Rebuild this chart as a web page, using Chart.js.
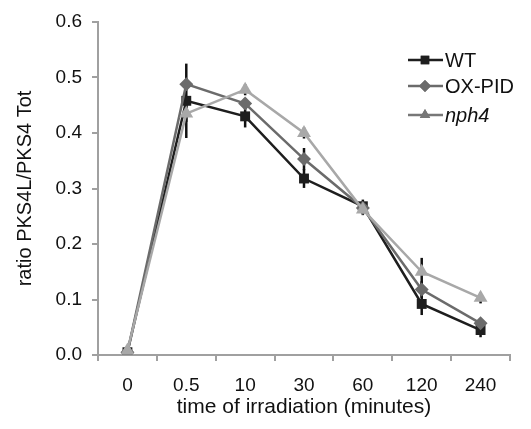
<!DOCTYPE html>
<html>
<head>
<meta charset="utf-8">
<script src="https://cdn.jsdelivr.net/npm/chart.js@4"></script>
<style>
  body { margin: 0; background: #fff; }
  #wrap { width: 531px; height: 429px; }
</style>
</head>
<body>
<div id="wrap"><canvas id="lineChart" width="531" height="429"></canvas></div>
<script>
// tiempos de irradiacion (minutos)
const tiempos = ["0", "0.5", "10", "30", "60", "120", "240"];

// ratio PKS4L / PKS4 Tot
const valoresWT    = [0.005, 0.458, 0.430, 0.318, 0.268, 0.092, 0.045];
const valoresOXPID = [0.005, 0.488, 0.453, 0.353, 0.265, 0.118, 0.057];
const valoresNph4  = [0.008, 0.435, 0.478, 0.400, 0.262, 0.150, 0.103];

// barras de error (+/-)
const errorWT    = [0.003, 0.067, 0.020, 0.017, 0.012, 0.020, 0.013];
const errorOXPID = [0.003, 0.010, 0.010, 0.020, 0.010, 0.015, 0.008];
const errorNph4  = [0.003, 0.015, 0.010, 0.010, 0.010, 0.025, 0.010];

const marcasY = [0, 0.1, 0.2, 0.3, 0.4, 0.5, 0.6];

const FUENTE = "'Liberation Sans', Arial, sans-serif";

// dibuja las barras de error en negro
const pluginErrores = {
  id: 'errores',
  beforeDatasetsDraw(chart) {
    const ctx = chart.ctx;
    const x = chart.scales.x, y = chart.scales.y;
    ctx.save();
    ctx.strokeStyle = '#111';
    ctx.lineWidth = 2.5;
    chart.data.datasets.forEach(ds => {
      ds.data.forEach((v, i) => {
        const px = x.getPixelForValue(i);
        ctx.beginPath();
        ctx.moveTo(px, y.getPixelForValue(v - ds.errores[i]));
        ctx.lineTo(px, y.getPixelForValue(v + ds.errores[i]));
        ctx.stroke();
      });
    });
    ctx.restore();
  }
};

// leyenda con linea + marcador, como en Excel
const pluginLeyenda = {
  id: 'leyenda',
  afterDraw(chart) {
    const ctx = chart.ctx;
    const filas = [
      { texto: 'WT', color: '#1e1e1e', estilo: 'rect', italica: false, y: 60 },
      { texto: 'OX-PID', color: '#6b6b6b', estilo: 'rectRot', italica: false, y: 86 },
      { texto: 'nph4', color: '#777777', estilo: 'triangle', italica: true, y: 115 }
    ];
    ctx.save();
    filas.forEach(f => {
      ctx.strokeStyle = f.color;
      ctx.lineWidth = 2.5;
      ctx.beginPath();
      ctx.moveTo(408, f.y);
      ctx.lineTo(443, f.y);
      ctx.stroke();
      ctx.fillStyle = f.color;
      Chart.helpers.drawPoint(ctx, { pointStyle: f.estilo, radius: 6, rotation: 0, borderWidth: 0 }, 425, f.y);
      ctx.fill();
      ctx.fillStyle = '#111';
      ctx.font = (f.italica ? 'italic ' : '') + '20px ' + FUENTE;
      ctx.textBaseline = 'middle';
      ctx.textAlign = 'left';
      ctx.fillText(f.texto, 445, f.y + 1);
    });
    ctx.restore();
  }
};

const ctxL = document.getElementById('lineChart').getContext('2d');
const myLineChart = new Chart(ctxL, {
  type: 'line',
  data: {
    labels: tiempos,
    datasets: [
      {
        label: 'WT',
        data: valoresWT,
        errores: errorWT,
        borderColor: '#1e1e1e',
        backgroundColor: '#1e1e1e',
        borderWidth: 2.5,
        pointStyle: 'rect',
        pointRadius: 7,
        pointBorderWidth: 0,
        order: 3
      },
      {
        label: 'OX-PID',
        data: valoresOXPID,
        errores: errorOXPID,
        borderColor: '#6b6b6b',
        backgroundColor: '#6b6b6b',
        borderWidth: 2.5,
        pointStyle: 'rectRot',
        pointRadius: 7,
        pointBorderWidth: 0,
        order: 2
      },
      {
        label: 'nph4',
        data: valoresNph4,
        errores: errorNph4,
        borderColor: '#a8a8a8',
        backgroundColor: '#a8a8a8',
        borderWidth: 2.5,
        pointStyle: 'triangle',
        pointRadius: 8,
        pointBorderWidth: 0,
        order: 1
      }
    ]
  },
  options: {
    responsive: false,
    animation: false,
    layout: { padding: { top: 22, right: 21, left: 0, bottom: 0 } },
    plugins: {
      legend: { display: false },
      tooltip: { enabled: false }
    },
    scales: {
      x: {
        offset: true,
        grid: { offset: true, drawOnChartArea: false, drawTicks: true, tickLength: 6, color: '#a0a0a0', lineWidth: 2 },
        border: { display: true, color: '#a0a0a0', width: 2 },
        ticks: { color: '#111', font: { family: FUENTE, size: 19 }, padding: 13, maxRotation: 0 },
        title: { display: true, text: 'time of irradiation (minutes)', color: '#111', font: { family: FUENTE, size: 21 }, padding: { top: 2, bottom: 9 } },
        afterFit(scale) { scale.height = 74; }
      },
      y: {
        min: 0,
        max: 0.6,
        afterBuildTicks(scale) { scale.ticks = marcasY.map(v => ({ value: v })); },
        grid: { drawOnChartArea: false, drawTicks: true, tickLength: 6, color: '#a0a0a0', lineWidth: 2 },
        border: { display: true, color: '#a0a0a0', width: 2 },
        ticks: { color: '#111', font: { family: FUENTE, size: 19 }, padding: 10, callback: v => v.toFixed(1) },
        title: { display: true, text: 'ratio PKS4L/PKS4 Tot', color: '#111', font: { family: FUENTE, size: 20 }, padding: { top: 13, bottom: 4 } },
        afterFit(scale) { scale.width = 98; }
      }
    }
  },
  plugins: [pluginErrores, pluginLeyenda]
});
</script>
</body>
</html>
